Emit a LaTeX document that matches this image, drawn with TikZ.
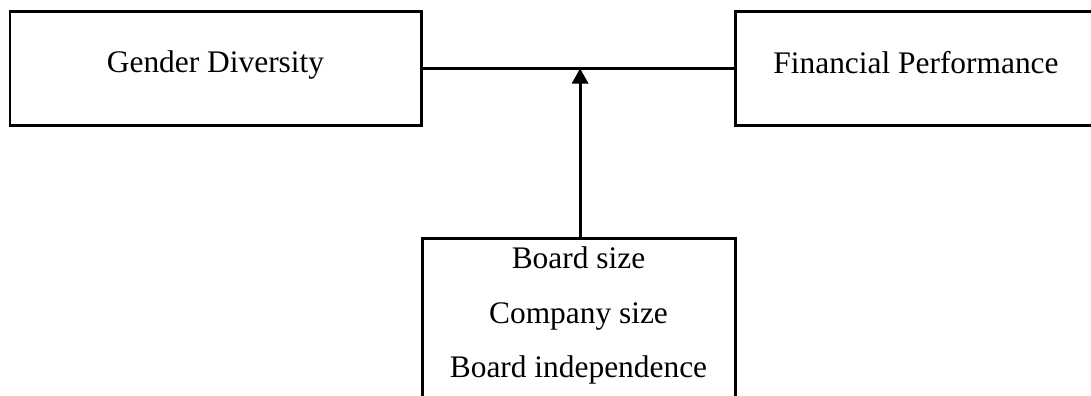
\documentclass[tikz,border=0pt]{standalone}
\usepackage{fontspec}
\setmainfont{Liberation Serif}
\usepackage{tikz}
\usetikzlibrary{arrows.meta}

\begin{document}
\begin{tikzpicture}[
  varbox/.style = {draw, line width=0.075cm, minimum height=2.825cm, inner sep=0pt,
                   text depth=0.32cm, font=\fontsize{22.34}{38.77}\selectfont},
  link/.style = {line width=0.075cm},
  arr/.style = {line width=0.075cm, -{Triangle[width=0.4cm, length=0.375cm]}}
]
\useasboundingbox (0,0) rectangle (27.275,-9.9);
\clip (0,0) rectangle (27.275,-9.9);
\node[varbox, minimum width=10.275cm] (gender) at (5.3875,-1.7125) {Gender Diversity};
\node[varbox, minimum width=9.05cm] (finance) at (22.9,-1.7125) {Financial Performance};
\node[draw, line width=0.075cm, minimum width=7.825cm, minimum height=6cm, anchor=north] (modbox) at (14.4625,-5.925) {};
\node[inner sep=0pt, anchor=north, align=center, font=\fontsize{22.34}{38.77}\selectfont]
  (modlist) at ([yshift=-0.24cm]modbox.north) {Board size\\Company size\\Board independence};
\draw[link] (gender.east) -- (finance.west);
\draw[arr] ([xshift=0.04cm]modbox.north) -- ([xshift=0.04cm]modbox.north |- gender.east);
\end{tikzpicture}
\end{document}
